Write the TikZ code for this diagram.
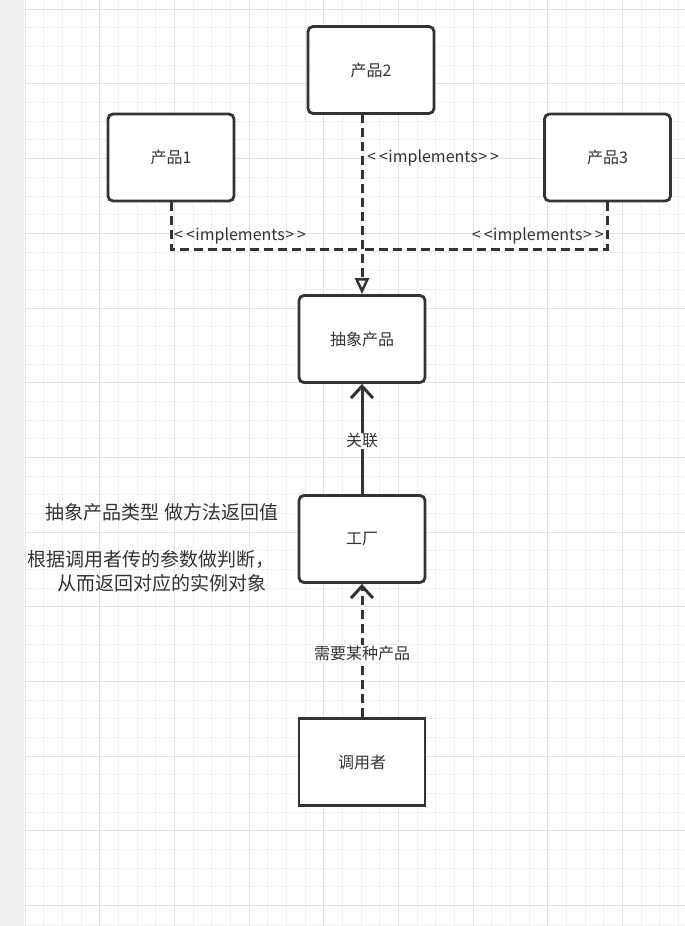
\documentclass[tikz,border=0pt]{standalone}
\usepackage{fontspec}
\setmainfont{Noto Sans CJK SC}
\usetikzlibrary{arrows.meta}
\definecolor{linec}{HTML}{333333}
\definecolor{gridminor}{HTML}{EFEFEF}
\definecolor{gridmajor}{HTML}{E2E2E2}
\definecolor{strip}{HTML}{F0F0F0}
\newcommand{\implabel}{<\kern3pt<\kern0.5pt implements\kern0.5pt>\kern3pt>}
\tikzset{
  box/.style={draw=linec, line width=2.8pt, rounded corners=5pt, fill=white, minimum width=126pt, minimum height=87pt, inner sep=0pt, font=\fontsize{16}{18}\selectfont, text=linec},
  sharpbox/.style={box, rounded corners=0pt},
  conn/.style={draw=linec, line width=3pt},
  dashconn/.style={conn, dash pattern=on 9pt off 5pt},
  lbl/.style={font=\fontsize{16}{18}\selectfont, text=linec, inner sep=1pt},
  note/.style={font=\fontsize{19}{22}\selectfont, text=linec, inner sep=0pt, align=center},
}
\begin{document}
\begin{tikzpicture}[x=1pt, y=-1pt]
\useasboundingbox (0,0) rectangle (685,926);
\fill[white] (0,0) rectangle (685,926);
\fill[strip] (0,0) rectangle (24,926);
% grid
\foreach \i in {0,...,35} {
  \pgfmathsetmacro\xx{25+\i*18.67}
  \pgfmathtruncatemacro\m{mod(\i,4)}
  \ifnum\m=0 \draw[gridmajor, line width=1pt] (\xx,0) -- (\xx,926);
  \else \draw[gridminor, line width=1pt] (\xx,0) -- (\xx,926); \fi
}
\foreach \j in {0,...,49} {
  \pgfmathsetmacro\yy{9.3+\j*18.67}
  \pgfmathtruncatemacro\m{mod(\j,4)}
  \ifnum\m=0 \draw[gridmajor, line width=1pt] (25,\yy) -- (685,\yy);
  \else \draw[gridminor, line width=1pt] (25,\yy) -- (685,\yy); \fi
}

\node[box] (p2) at (371,70) {产品2};
\node[box] (p1) at (171,157.5) {产品1};
\node[box] (p3) at (607.5,157.5) {产品3};
\node[box] (abs) at (362,339) {抽象产品};
\node[box] (fac) at (362,539) {工厂};
\node[sharpbox] (caller) at (362,762) {调用者};

\coordinate (merge) at (362,249);
\coordinate (p2b) at (362,114);

% implements
\draw[dashconn, -{Triangle[open, length=16pt, width=14pt, line width=2.5pt]}] (p2b) -- (abs.north);
\draw[dashconn] (p1.south) |- (merge);
\draw[dashconn] (p3.south) |- (merge);

\node[lbl, anchor=west] (i2) at (366,158) {\implabel};
\node[lbl, anchor=west] (i1) at (173,236) {\implabel};
\node[lbl, anchor=east] (i3) at (605,236) {\implabel};

% association
\draw[conn, -{Straight Barb[length=12pt, width=22pt, line width=3pt]}] (fac.north) -- (abs.south);
\node[lbl, fill=white] (l1) at (362,441) {关联};

\draw[dashconn, -{Straight Barb[length=12pt, width=22pt, line width=3pt]}] (caller.north) -- (fac.south);
\node[lbl, fill=white] (l2) at (362,653) {需要某种产品};

% notes
\node[note] (n1) at (162,512) {抽象产品类型 做方法返回值};
\node[note] (n2) at (151,559) {根据调用者传的参数做判断，};
\node[note] (n3) at (162,583) {从而返回对应的实例对象};
\end{tikzpicture}
\end{document}
